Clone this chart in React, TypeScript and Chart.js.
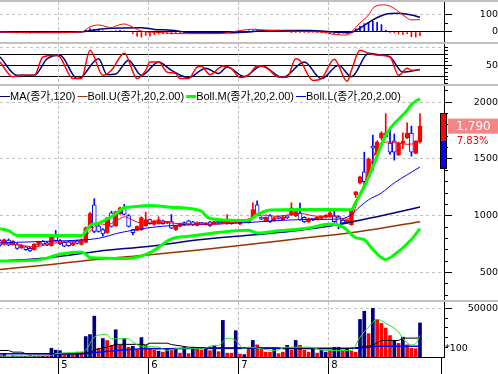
import React, { useEffect, useRef } from 'react';
import { Chart, registerables } from 'chart.js';

Chart.register(...registerables);

// ---------------- tick labels / categories ----------------
const monthLabels = ['5', '6', '7', '8'];
const monthStartIdx = [14, 35, 56, 77];

const macdTickValues = [0, 100];
const macdTickLabels = ['0', '100'];
const macdRefLines = [0];
const stochTickValues = [50, 100];
const stochTickLabels = ['50', ''];
const stochRefLines = [20, 50, 80];
const priceTickValues = [500, 1000, 1500, 2000];
const priceTickLabels = ['500', '1000', '1500', '2000'];
const volTickValues = [50000];
const volTickLabels = ['50000'];
const volUnitLabel = '*100';

const legendNames = ['MA(종가,120)', 'Boll.U(종가,20,2.00)', 'Boll.M(종가,20,2.00)', 'Boll.L(종가,20,2.00)'];

// ---------------- candles ----------------
const opens = [
  780, 746, 785, 745, 745, 715, 725, 712, 700, 740,
  775, 760, 735, 830, 780, 765, 770, 740, 780, 746,
  763, 895, 1096, 910, 877, 850, 1025, 910, 1018, 1070,
  1000, 877, 870, 877, 912, 965, 922, 930, 955, 935,
  948, 877, 905, 940, 955, 945, 915, 935, 920, 945,
  930, 945, 935, 930, 955, 940, 925, 945, 940, 982,
  1096, 985, 955, 1000, 955, 985, 965, 995, 1009, 1000,
  1026, 985, 945, 970, 965, 975, 985, 990, 1000, 991,
  960, 940, 921, 1184, 1290, 1386, 1342, 1614, 1535, 1685,
  1695, 1640, 1660, 1535, 1640, 1685, 1728, 1550, 1650,
];
const highs = [
  790, 795, 795, 780, 755, 745, 730, 720, 755, 775,
  780, 765, 825, 870, 790, 770, 775, 768, 785, 795,
  900, 1030, 1150, 930, 885, 985, 1040, 1040, 1075, 1100,
  1010, 880, 910, 990, 1030, 970, 960, 990, 960, 950,
  1010, 915, 935, 945, 960, 950, 945, 940, 940, 950,
  950, 948, 955, 1010, 960, 960, 960, 965, 975, 1114,
  1130, 990, 990, 1010, 990, 995, 1000, 1000, 1114, 1040,
  1110, 990, 980, 975, 990, 1000, 1010, 1035, 1060, 1000,
  970, 965, 1060, 1215, 1350, 1560, 1510, 1710, 1660, 1740,
  1900, 1780, 1720, 1650, 1730, 1820, 1790, 1660, 1900,
];
const lows = [
  730, 740, 735, 740, 705, 710, 695, 685, 695, 735,
  740, 735, 730, 775, 745, 725, 730, 735, 750, 740,
  760, 890, 850, 855, 820, 845, 900, 905, 1010, 1005,
  900, 830, 865, 870, 905, 925, 915, 925, 925, 930,
  885, 870, 900, 915, 918, 915, 910, 920, 915, 905,
  925, 930, 930, 925, 925, 935, 920, 940, 935, 975,
  1000, 965, 950, 940, 950, 970, 960, 975, 1000, 990,
  960, 940, 940, 955, 960, 970, 980, 985, 940, 885,
  930, 930, 915, 1160, 1280, 1270, 1330, 1400, 1530, 1670,
  1690, 1540, 1490, 1530, 1590, 1680, 1525, 1545, 1640,
];
const closes = [
  740, 790, 740, 775, 712, 740, 700, 690, 750, 770,
  748, 740, 820, 780, 750, 730, 735, 762, 755, 790,
  895, 1018, 860, 860, 840, 980, 905, 1035, 1070, 1010,
  905, 850, 905, 983, 965, 930, 955, 965, 930, 945,
  890, 912, 930, 920, 922, 920, 940, 925, 935, 910,
  948, 935, 950, 965, 930, 955, 955, 958, 965, 1053,
  1009, 970, 985, 947, 980, 975, 990, 980, 1070, 1035,
  965, 945, 975, 960, 985, 995, 1005, 1026, 947, 921,
  935, 960, 1053, 1210, 1342, 1300, 1500, 1596, 1650, 1728,
  1730, 1560, 1560, 1640, 1655, 1728, 1560, 1660, 1790,
];
const rangeTop = 1905;
const rangeBottom = 1420;

// ---------------- price overlays [index, value] ----------------
const ma5Pts = [[0,760],[4,745],[8,725],[12,755],[16,770],[19,780],[21,860],[23,930],[25,920],[27,950],[29,990],[31,960],[33,935],[36,945],[40,935],[45,925],[50,925],[55,945],[58,960],[60,1000],[62,1005],[64,995],[68,1010],[70,1020],[74,995],[78,995],[80,970],[82,980],[83,1080],[84,1200],[85,1280],[86,1400],[87,1500],[88,1600],[89,1640],[91,1650],[93,1640],[95,1630],[97,1640],[98,1660]];
const ma20Pts = [[0,760],[12,775],[19,785],[23,800],[28,850],[35,895],[41,915],[47,921],[53,930],[58,940],[64,955],[70,965],[77,968],[80,975],[82,1009],[84,1080],[86,1140],[89,1200],[92,1290],[95,1360],[98,1430]];
const ma60Pts = [[0,599],[12,632],[23,687],[35,731],[47,789],[58,827],[70,871],[79,921],[89,1000],[98,1076]];
const ma120Pts = [[0,526],[12,570],[23,615],[35,655],[47,700],[58,745],[70,798],[84,860],[98,947]];
const bollUpPts = [[0,886],[2,868],[4,826],[19,826],[20,860],[21,912],[23,935],[26,990],[29,1070],[30,1075],[35,1090],[40,1075],[47,1040],[48,1000],[49,975],[56,958],[58,960],[60,1009],[63,1050],[70,1055],[82,1053],[83,1120],[85,1254],[87,1430],[90,1710],[95,1930],[96,1980],[97,2010],[98,2030]];
const bollLowPts = [[0,599],[9,610],[14,660],[19,680],[20,660],[21,629],[30,623],[35,673],[40,796],[44,818],[58,871],[60,848],[65,866],[72,892],[77,927],[80,901],[83,807],[85,789],[87,702],[90,614],[92,655],[96,789],[98,886]];

// ---------------- MACD ----------------
const macdPts = [[0,0],[9,-5],[19,0],[21,30],[23,41],[26,25],[27,35],[29,47],[30,40],[32,15],[33,5],[37,-3],[42,-10],[51,-10],[54,0],[59,16],[62,10],[70,3],[76,-3],[78,-15],[81,-18],[82,0],[84,53],[86,100],[87,139],[89,159],[91,152],[93,120],[94,100],[96,71],[98,72]];
const signalPts = [[0,0],[19,0],[22,12],[26,22],[33,25],[36,15],[40,10],[44,-3],[51,-5],[58,0],[62,8],[72,8],[78,0],[81,-5],[82,-3],[84,22],[87,71],[90,104],[93,110],[96,100],[98,86]];
const oscValues = [
  2, -2, -3, -4, -5, -4, -5, -6, -4, -3, -2, -3, 2, 3, -2, -3, -2, 0, 2, 3,
  10, 20, 15, 10, 6, 4, 5, 7, 9, 6, 3, -10, -25, -30, -20, -25, -15, -12, -10, -8,
  -12, -10, -8, -6, -5, -4, -6, -5, -4, -5, -6, -5, -4, -3, -2, 0, 3, 5, 6, 8,
  6, 4, 3, 2, 3, 2, 2, 1, -2, -3, -4, -3, -2, -3, -4, -5, -6, -8, -10, -12,
  -6, -8, -5, 18, 33, 49, 57, 63, 57, 43, 10, -2, -5, -12, -14, -10, -28, -30, -22,
];

// ---------------- Stochastic ----------------
const stochKPts = [[0,59],[3,18],[5,22],[8,22],[10,73],[13,78],[14,73],[17,13],[19,13],[21,92],[24,22],[26,36],[29,83],[32,13],[34,36],[35,59],[37,59],[39,31],[41,27],[42,13],[44,13],[46,45],[47,47],[49,24],[52,48],[54,41],[56,16],[58,22],[60,48],[62,45],[65,17],[67,17],[69,68],[70,63],[73,8],[75,13],[78,67],[81,5],[82,36],[84,92],[86,83],[88,78],[91,73],[93,22],[95,42],[96,36],[98,38]];
const stochDPts = [[0,73],[4,22],[8,22],[11,68],[14,78],[18,13],[19,17],[23,68],[25,24],[27,26],[30,64],[33,22],[37,59],[40,36],[44,16],[48,42],[51,27],[53,45],[57,19],[61,48],[66,16],[71,59],[75,13],[79,50],[82,18],[86,83],[88,80],[91,73],[94,31],[98,38]];

// ---------------- Volume ----------------
const volumes = [
  2300, 3300, 500, 1200, 800, 1000, 700, 1500, 900, 1200, 800, 1000,
  9000, 7000, 6500, 4000, 4000, 3000, 5000, 5000,
  21000, 23000, 42000, 9000, 19000, 17000, 12000, 28000, 12000, 19000,
  10000, 11000, 7000, 20000, 12000, 8000, 7000, 6000, 5000, 8000,
  7000, 9000, 4000, 10000, 3500, 10000, 8000, 7000, 10000, 6500,
  11000, 5500, 37600, 4000, 4000, 27000, 3000, 2500, 9000, 17000,
  12500, 9000, 5000, 5000, 9000, 3500, 5000, 12000, 7000, 17000,
  12000, 7000, 5000, 9000, 4000, 7000, 5000, 7000, 10000, 10000,
  6000, 9000, 6000, 5000, 38600, 47000, 24000, 50000, 38600, 34500,
  29700, 22000, 17000, 14000, 20400, 12500, 9000, 8500, 35000,
];
const volUp = [
  1, 0, 1, 0, 0, 1, 0, 1, 0, 1, 0, 1,
  0, 0, 0, 1, 0, 1, 0, 1,
  0, 0, 0, 1, 0, 1, 1, 0, 1, 0,
  1, 0, 1, 0, 1, 1, 1, 0, 1, 0,
  1, 0, 1, 0, 1, 0, 1, 1, 0, 1,
  0, 1, 0, 1, 1, 0, 1, 0, 1, 0,
  1, 1, 1, 1, 0, 1, 1, 0, 1, 0,
  1, 1, 1, 0, 1, 0, 0, 1, 0, 0,
  1, 0, 1, 1, 0, 0, 1, 0, 1, 1,
  1, 1, 0, 1, 0, 1, 1, 1, 0,
];
const volMa5Pts = [[0,1000],[3,900],[12,1500],[13,3500],[19,5000],[20,7000],[22,20400],[24,22900],[25,22900],[26,18700],[30,18700],[31,15300],[33,11100],[37,10100],[39,6700],[42,9100],[44,9100],[47,8400],[50,11900],[51,11900],[53,19400],[55,17000],[57,8400],[58,10100],[64,6700],[67,10100],[72,10100],[76,6700],[82,6700],[84,20400],[86,30600],[88,38600],[90,34500],[93,25800],[94,19000],[96,12600],[97,13600],[98,22000]];
const volMa20Pts = [[0,6700],[2,6700],[3,5000],[5,5000],[6,3300],[19,3300],[21,5000],[23,8400],[25,10100],[27,13000],[33,13000],[34,12400],[35,14200],[39,14200],[40,12800],[44,10100],[48,9400],[65,9400],[66,8400],[81,8400],[84,10100],[87,12000],[89,17000],[93,17000],[94,19400],[98,19400]];
const volMa60Pts = [[0,3300],[19,3300],[23,5000],[34,8400],[58,9100],[84,9100],[88,11000],[98,11000]];

// ---------------- layout / style constants ----------------
const W = 498;
const AXIS_X = 444;
const AXIS_W = W - AXIS_X;
const SLOT = 90 / 21;
const X_MAX = AXIS_X / SLOT;
const X_END_TICK = 442 / SLOT;
const LABEL_RIGHT = 488.5;
const GRID = '#c0c0c0';
const RED = '#ff0000';
const BLUE = '#0000ff';
const NAVY = '#000080';
const GREEN = '#00ff00';
const BROWN = '#993300';
const CLEAR = 'rgba(0,0,0,0)';
const FAMILY = '"DejaVu Sans", sans-serif';
const LEG_FAMILY = '"Liberation Sans", "Noto Sans CJK KR", sans-serif';
const TICK_SIZE = 9.5;

interface YSpec {
  min: number; max: number; major: number[]; labels: string[];
  gridOn: boolean[]; tickOn: boolean[]; minor: number[]; refs: number[];
}

function measure(txt: string, font: string) {
  const c = document.createElement('canvas').getContext('2d')!;
  c.font = font;
  return c.measureText(txt).width;
}

const zeroPad = (s: any) => { s.paddingTop = 0; s.paddingBottom = 0; s.paddingLeft = 0; s.paddingRight = 0; };

function buildScales(y: YSpec, bottom: boolean) {
  const tickFont = `${TICK_SIZE}px ${FAMILY}`;
  const widest = Math.max(0, ...y.labels.map((l) => measure(l, tickFont)));
  const pad = LABEL_RIGHT - AXIS_X - 8 - widest;
  const xTicks = monthStartIdx.map((i) => i - 0.4);
  if (bottom) xTicks.push(X_END_TICK);
  return {
    y: {
      type: 'linear', position: 'right', weight: 2, min: y.min, max: y.max, bounds: 'data',
      afterBuildTicks: (s: any) => { s.ticks = y.major.map((v) => ({ value: v })); },
      afterFit: (s: any) => { s.width = AXIS_W; zeroPad(s); },
      ticks: {
        autoSkip: false, crossAlign: 'far', padding: pad, color: '#000',
        font: { family: FAMILY, size: TICK_SIZE },
        callback: (_v: any, i: number) => y.labels[i] ?? '',
      },
      grid: {
        offset: false, drawOnChartArea: true, drawTicks: true, tickLength: 8, lineWidth: 1,
        color: (c: any) => (y.gridOn[c.index] ? GRID : CLEAR),
        tickColor: (c: any) => (y.tickOn[c.index] ? '#000' : CLEAR),
        tickBorderDash: [],
      },
      border: { display: true, color: '#000', width: 1, dash: [3, 3] },
    },
    yMinor: {
      type: 'linear', position: 'right', weight: 0, min: y.min, max: y.max, bounds: 'data',
      afterBuildTicks: (s: any) => { s.ticks = y.minor.map((v) => ({ value: v })); },
      afterFit: (s: any) => { s.width = 0; zeroPad(s); },
      ticks: { display: false },
      grid: { offset: false, drawOnChartArea: false, drawTicks: true, tickLength: 4, color: '#000', tickColor: '#000' },
      border: { display: false },
    },
    yRef: {
      type: 'linear', position: 'right', weight: 1, min: y.min, max: y.max, bounds: 'data',
      display: y.refs.length > 0,
      afterBuildTicks: (s: any) => { s.ticks = y.refs.map((v) => ({ value: v })); },
      afterFit: (s: any) => { s.width = 0; zeroPad(s); },
      ticks: { display: false },
      grid: { offset: false, drawOnChartArea: true, drawTicks: false, color: '#000', lineWidth: 1 },
      border: { display: false },
    },
    x: {
      type: 'linear', position: 'bottom', min: 0, max: X_MAX, offset: false, bounds: 'data',
      afterBuildTicks: (s: any) => { s.ticks = xTicks.map((v) => ({ value: v })); },
      afterFit: (s: any) => { s.height = bottom ? 17 : 0; zeroPad(s); },
      ticks: {
        display: bottom, autoSkip: false, maxRotation: 0, minRotation: 0, align: 'start',
        labelOffset: 3, padding: -15, color: '#000', font: { family: FAMILY, size: 10 },
        callback: (_v: any, i: number) => monthLabels[i] ?? '',
      },
      grid: {
        offset: false, display: true, drawOnChartArea: true, drawTicks: bottom, tickLength: 17, lineWidth: 1,
        color: (c: any) => (c.index < monthStartIdx.length ? GRID : CLEAR),
        tickColor: '#000', tickBorderDash: [],
      },
      border: { display: bottom, color: '#000', width: 1, dash: [3, 2] },
    },
  };
}

const line = (pts: number[][], color: string, width: number, order: number, smooth = true) => ({
  type: 'line',
  data: pts.map(([x, y]) => ({ x, y })),
  borderColor: color, borderWidth: width, pointRadius: 0, fill: false,
  tension: 0, cubicInterpolationMode: smooth ? 'monotone' : 'default',
  order, xAxisID: 'x', yAxisID: 'y',
});

function makeConfig(datasets: any[], y: YSpec, bottom: boolean, plugins: any[] = []) {
  return {
    type: 'line',
    data: { datasets },
    options: {
      responsive: false, maintainAspectRatio: false, animation: false, devicePixelRatio: 1,
      events: [], layout: { padding: 0 },
      plugins: { legend: { display: false }, tooltip: { enabled: false }, title: { display: false } },
      scales: buildScales(y, bottom),
    },
    plugins,
  } as any;
}

export default function App() {
  const refA = useRef<HTMLCanvasElement>(null);
  const refB = useRef<HTMLCanvasElement>(null);
  const refC = useRef<HTMLCanvasElement>(null);
  const refD = useRef<HTMLCanvasElement>(null);

  useEffect(() => {
    Chart.defaults.font.family = FAMILY;
    const idx = opens.map((_, i) => i);
    const up = idx.map((i) => closes[i] >= opens[i]);

    // ---- MACD ----
    const cfgA = makeConfig(
      [
        { type: 'bar', data: oscValues.map((v, i) => ({ x: i, y: v })), backgroundColor: oscValues.map((v) => (v >= 0 ? BLUE : RED)), barThickness: 1, grouped: false, order: 5, xAxisID: 'x', yAxisID: 'y' },
        line(signalPts, NAVY, 1.5, 2),
        line(macdPts, RED, 1, 1),
      ],
      { min: -59, max: 176, major: macdTickValues, labels: macdTickLabels, gridOn: [false, true], tickOn: [true, true], minor: [0, 50, 100], refs: macdRefLines },
      false,
    );

    // ---- Stochastic ----
    const cfgB = makeConfig(
      [line(stochDPts, NAVY, 1.5, 2), line(stochKPts, RED, 1.5, 1)],
      { min: -2, max: 109, major: stochTickValues, labels: stochTickLabels, gridOn: [false, true], tickOn: [true, false], minor: [0, 10, 20, 30, 40, 50, 60, 70, 80, 90, 100], refs: stochRefLines },
      false,
    );

    // ---- Price ----
    const lastClose = closes[closes.length - 1];
    const prevClose = closes[closes.length - 2];
    const pct = ((lastClose - prevClose) / prevClose) * 100;
    const legendColors = [NAVY, BROWN, GREEN, BLUE];
    const legendWidths = [1, 1, 3, 1];
    const pricePlugin = {
      id: 'priceOverlay',
      afterDraw(chart: any) {
        const ctx = chart.ctx;
        const ys = chart.scales.y;
        ctx.save();
        // legend
        ctx.font = `11px ${LEG_FAMILY}`;
        ctx.textBaseline = 'middle';
        ctx.textAlign = 'left';
        let x = 0;
        const ly = 10.5;
        legendNames.forEach((name, k) => {
          ctx.strokeStyle = legendColors[k];
          ctx.lineWidth = legendWidths[k];
          ctx.beginPath();
          ctx.moveTo(x, ly);
          ctx.lineTo(x + 10, ly);
          ctx.stroke();
          ctx.fillStyle = '#000';
          ctx.fillText(name, x + 10, ly);
          x += 10 + ctx.measureText(name).width + 2;
        });
        // range bar on the axis
        const pTop = ys.getPixelForValue(rangeTop);
        const pMid = ys.getPixelForValue(prevClose);
        const pBot = ys.getPixelForValue(rangeBottom);
        ctx.fillStyle = RED;
        ctx.fillRect(441, pTop, 5, pMid - pTop);
        ctx.fillStyle = BLUE;
        ctx.fillRect(441, pMid, 5, pBot - pMid);
        ctx.strokeStyle = '#000';
        ctx.lineWidth = 1;
        ctx.strokeRect(440.5, Math.round(pTop) + 0.5, 6, Math.round(pBot - pTop));
        // last price box
        const pc = ys.getPixelForValue(lastClose);
        ctx.fillStyle = '#f28686';
        ctx.fillRect(448, pc - 7.5, 50, 15);
        ctx.fillStyle = '#ffffff';
        ctx.font = `12px ${FAMILY}`;
        ctx.textAlign = 'center';
        ctx.fillText(lastClose.toLocaleString('en-US'), 473.5, pc + 0.5);
        // change percentage
        ctx.fillStyle = RED;
        ctx.font = `10px ${FAMILY}`;
        ctx.textAlign = 'right';
        ctx.fillText(`${pct.toFixed(2)}%`, 488.5, pMid + 0.5);
        ctx.restore();
      },
    };
    const cfgC = makeConfig(
      [
        { type: 'bar', data: idx.map((i) => ({ x: i, y: [lows[i], highs[i]] })), backgroundColor: up.map((u) => (u ? RED : BLUE)), barThickness: 1, grouped: false, order: 10, xAxisID: 'x', yAxisID: 'y' },
        { type: 'bar', data: idx.map((i) => ({ x: i, y: [opens[i], closes[i]] })), backgroundColor: up.map((u) => (u ? RED : '#ffffff')), borderColor: up.map((u) => (u ? RED : BLUE)), borderWidth: 1, borderSkipped: false, barThickness: 4, minBarLength: 2, grouped: false, order: 9, xAxisID: 'x', yAxisID: 'y' },
        line(ma120Pts, BROWN, 1.5, 6),
        line(ma60Pts, NAVY, 1.5, 5),
        line(ma20Pts, BLUE, 1, 4),
        line(ma5Pts, RED, 1, 3),
        line(bollLowPts, GREEN, 3, 2),
        line(bollUpPts, GREEN, 3, 1),
      ],
      { min: 256, max: 2144, major: priceTickValues, labels: priceTickLabels, gridOn: [true, true, true, true], tickOn: [true, true, true, true], minor: Array.from({ length: 19 }, (_, k) => 300 + k * 100), refs: [] },
      false,
      [pricePlugin],
    );

    // ---- Volume ----
    const volPlugin = {
      id: 'volUnit',
      afterDraw(chart: any) {
        const ctx = chart.ctx;
        ctx.save();
        ctx.font = `${TICK_SIZE}px ${FAMILY}`;
        ctx.fillStyle = '#000';
        ctx.textAlign = 'left';
        ctx.textBaseline = 'middle';
        ctx.fillText(volUnitLabel, 445, 46.5);
        ctx.restore();
      },
    };
    const cfgD = makeConfig(
      [
        { type: 'bar', data: volumes.map((v, i) => ({ x: i, y: v })), backgroundColor: volUp.map((u) => (u ? RED : NAVY)), barThickness: 3, grouped: false, order: 5, xAxisID: 'x', yAxisID: 'y' },
        line(volMa60Pts, BLUE, 1.5, 3),
        line(volMa20Pts, '#000000', 1, 2, false),
        line(volMa5Pts, '#22dd22', 1, 1),
      ],
      { min: 0, max: 56500, major: volTickValues, labels: volTickLabels, gridOn: [true], tickOn: [true], minor: [10000, 20000, 30000, 40000, 50000], refs: [] },
      true,
      [volPlugin],
    );

    const charts = [
      new Chart(refA.current!, cfgA),
      new Chart(refB.current!, cfgB),
      new Chart(refC.current!, cfgC),
      new Chart(refD.current!, cfgD),
    ];
    return () => charts.forEach((c) => c.destroy());
  }, []);

  const sep = (top: number) => (
    <div key={top} style={{ position: 'absolute', left: 0, top, width: W, height: 2, background: GRID }} />
  );
  const cv = (ref: any, top: number, h: number) => (
    <canvas ref={ref} width={W} height={h} style={{ position: 'absolute', left: 0, top, width: W, height: h }} />
  );

  return (
    <div style={{ position: 'absolute', left: 0, top: 0, width: W, height: 374, background: '#fff', overflow: 'hidden' }}>
      {sep(0)}
      {sep(42)}
      {sep(84)}
      {sep(300)}
      {cv(refA, 2, 40)}
      {cv(refB, 44, 40)}
      {cv(refC, 86, 214)}
      {cv(refD, 302, 72)}
    </div>
  );
}
